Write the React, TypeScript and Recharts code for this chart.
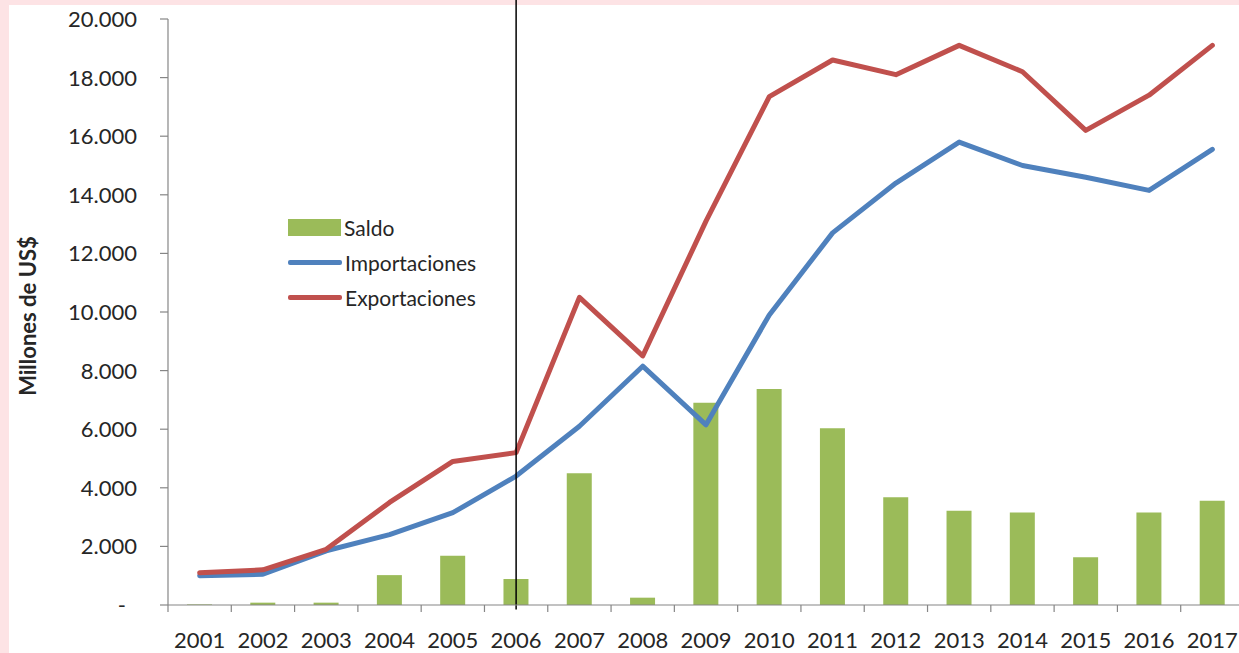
import React from 'react';
import { ComposedChart, Bar, Line, XAxis, YAxis, ReferenceLine, Legend } from 'recharts';

const years = ['2001', '2002', '2003', '2004', '2005', '2006', '2007', '2008', '2009', '2010', '2011', '2012', '2013', '2014', '2015', '2016', '2017'];
const saldo = [20, 80, 80, 1020, 1680, 890, 4500, 250, 6900, 7370, 6030, 3680, 3220, 3160, 1630, 3160, 3560];
const importaciones = [1000, 1050, 1850, 2400, 3150, 4400, 6100, 8150, 6150, 9900, 12700, 14400, 15800, 15000, 14600, 14150, 15550];
const exportaciones = [1100, 1200, 1900, 3500, 4900, 5200, 10500, 8500, 13100, 17350, 18600, 18100, 19100, 18200, 16200, 17400, 19100];
const yTicks = [0, 2000, 4000, 6000, 8000, 10000, 12000, 14000, 16000, 18000, 20000];
const markerYear = '2006';
const legendOrder = ['Saldo', 'Importaciones', 'Exportaciones'];

const data = years.map((year, i) => ({
  year,
  saldo: saldo[i],
  importaciones: importaciones[i],
  exportaciones: exportaciones[i],
}));

const CHART_W = 1260;
const CHART_H = 653;
const MARGIN = { top: 19, right: 16, bottom: 0, left: 0 };
const Y_W = 168;
const BAND = (CHART_W - MARGIN.left - MARGIN.right - Y_W) / years.length;
const FONT = 'Lato, "Open Sans", sans-serif';
const AXIS_COLOR = '#868686';
const TEXT = '#262626';
const GREEN = '#9BBB59';
const BLUE = '#4F81BD';
const RED = '#C0504D';

const fmt = (v: number) => (v === 0 ? '-' : `${v / 1000}.000`);

const YTick = (props: any) => {
  const { x, y, payload } = props;
  const zero = payload.value === 0;
  return (
    <text x={x - (zero ? 11 : 0)} y={y} dy="0.36em" textAnchor="end" fill={TEXT} fontSize={22} fontFamily={FONT}>
      {fmt(payload.value)}
    </text>
  );
};

const XTick = (props: any) => {
  const { x, y, payload, index } = props;
  const axisY = y - 27;
  const last = index === years.length - 1;
  return (
    <g>
      <line x1={x - BAND / 2} x2={x - BAND / 2} y1={axisY} y2={axisY + 7} stroke={AXIS_COLOR} strokeWidth={1.2} />
      {last && <line x1={x + BAND / 2} x2={x + BAND / 2} y1={axisY} y2={axisY + 7} stroke={AXIS_COLOR} strokeWidth={1.2} />}
      <text x={x} y={y} dy="0.71em" textAnchor="middle" fill={TEXT} fontSize={22} fontFamily={FONT}>
        {payload.value}
      </text>
    </g>
  );
};

const LegendContent = (props: any) => {
  const payload = [...(props.payload || [])].sort(
    (a: any, b: any) => legendOrder.indexOf(a.value) - legendOrder.indexOf(b.value)
  );
  return (
    <div style={{ fontFamily: FONT, fontSize: 21, color: TEXT }}>
      {payload.map((e: any) => (
        <div key={e.value} style={{ display: 'flex', alignItems: 'center', height: 35 }}>
          {e.type === 'rect' ? (
            <div style={{ width: 53, height: 17, background: e.color }} />
          ) : (
            <div style={{ width: 54, height: 5, background: e.color, borderRadius: 2 }} />
          )}
          <span style={{ marginLeft: 3 }}>{e.value}</span>
        </div>
      ))}
    </div>
  );
};

export default function App() {
  return (
    <div style={{ position: 'absolute', left: 0, top: 0, width: 1239, height: 653, overflow: 'hidden', background: '#fde3e5' }}>
      <div style={{ position: 'absolute', left: 9, top: 5, right: 0, bottom: 0, background: '#ffffff' }} />
      <div style={{ position: 'absolute', left: 0, top: 0 }}>
        <ComposedChart width={CHART_W} height={CHART_H} data={data} margin={MARGIN}>
          <XAxis
            dataKey="year"
            interval={0}
            tickLine={false}
            tickSize={7}
            tickMargin={20}
            height={48}
            axisLine={{ stroke: AXIS_COLOR, strokeWidth: 1.2 }}
            tick={<XTick />}
          />
          <YAxis
            width={Y_W}
            domain={[0, 20000]}
            ticks={yTicks}
            interval={0}
            tickSize={8}
            tickMargin={23}
            axisLine={{ stroke: AXIS_COLOR, strokeWidth: 1.2 }}
            tickLine={{ stroke: AXIS_COLOR, strokeWidth: 1.2 }}
            tick={<YTick />}
          />
          <Legend
            layout="vertical"
            align="center"
            verticalAlign="middle"
            wrapperStyle={{ left: 288, top: 210, width: 'auto' }}
            content={<LegendContent />}
          />
          <Bar dataKey="saldo" name="Saldo" fill={GREEN} barSize={25} isAnimationActive={false} />
          <Line
            dataKey="importaciones"
            name="Importaciones"
            type="linear"
            stroke={BLUE}
            strokeWidth={5}
            strokeLinejoin="round"
            strokeLinecap="round"
            dot={false}
            activeDot={false}
            isAnimationActive={false}
          />
          <Line
            dataKey="exportaciones"
            name="Exportaciones"
            type="linear"
            stroke={RED}
            strokeWidth={5}
            strokeLinejoin="round"
            strokeLinecap="round"
            dot={false}
            activeDot={false}
            isAnimationActive={false}
          />
          <ReferenceLine
            segment={[{ x: markerYear, y: -150 }, { x: markerYear, y: 20650 }]}
            ifOverflow="visible"
            stroke="#000000"
            strokeWidth={1.5}
          />
        </ComposedChart>
      </div>
      <div
        style={{
          position: 'absolute',
          left: 28 - 110,
          top: 316 - 13,
          width: 220,
          height: 26,
          lineHeight: '26px',
          textAlign: 'center',
          transform: 'rotate(-90deg)',
          fontFamily: FONT,
          fontWeight: 700,
          fontSize: 22,
          color: TEXT,
        }}
      >
        Millones de US$
      </div>
    </div>
  );
}
